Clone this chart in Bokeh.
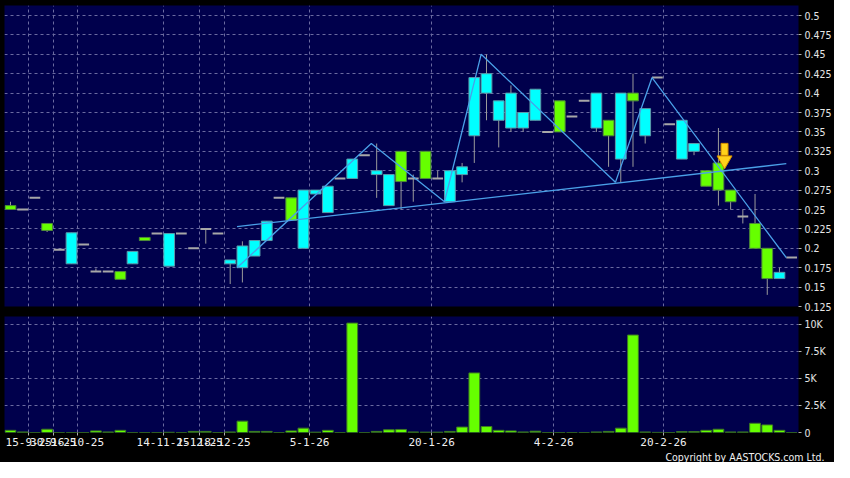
from bokeh.plotting import figure
from bokeh.models import Range1d, FixedTicker, Grid, Title, ColumnDataSource, NumeralTickFormatter
from bokeh.layouts import column
from bokeh.embed import file_html
from bokeh.resources import INLINE

# ---------------- data ----------------
opens = [0.255, 0.25, 0.265, 0.232, 0.198, 0.18, 0.205, 0.17, 0.17, 0.17,
         0.18, 0.214, 0.219, 0.177, 0.219, 0.2, 0.225, 0.219, 0.18, 0.175,
         0.19, 0.21, 0.265, 0.265, 0.2, 0.27, 0.246, 0.29, 0.29, 0.32,
         0.295, 0.255, 0.325, 0.29, 0.325, 0.29, 0.26, 0.295, 0.345, 0.4,
         0.365, 0.355, 0.355, 0.365, 0.35, 0.39, 0.37, 0.39, 0.355, 0.365,
         0.315, 0.4, 0.345, 0.42, 0.36, 0.315, 0.325, 0.3, 0.31, 0.275,
         0.241, 0.232, 0.2, 0.161, 0.188]
highs = [0.26, 0.25, 0.265, 0.232, 0.198, 0.22, 0.205, 0.174, 0.17, 0.17,
         0.196, 0.214, 0.219, 0.219, 0.219, 0.2, 0.225, 0.219, 0.185, 0.209,
         0.21, 0.235, 0.265, 0.265, 0.275, 0.275, 0.28, 0.29, 0.315, 0.32,
         0.335, 0.295, 0.325, 0.295, 0.325, 0.3, 0.3, 0.31, 0.42, 0.45,
         0.39, 0.41, 0.375, 0.405, 0.35, 0.39, 0.37, 0.39, 0.4, 0.365,
         0.4, 0.425, 0.38, 0.42, 0.36, 0.365, 0.335, 0.3, 0.355, 0.275,
         0.25, 0.27, 0.2, 0.175, 0.188]
lows = [0.25, 0.25, 0.265, 0.221, 0.198, 0.18, 0.205, 0.17, 0.17, 0.16,
        0.18, 0.21, 0.219, 0.177, 0.219, 0.2, 0.206, 0.219, 0.154, 0.156,
        0.19, 0.21, 0.265, 0.236, 0.2, 0.27, 0.246, 0.29, 0.29, 0.32,
        0.265, 0.255, 0.25, 0.26, 0.29, 0.29, 0.26, 0.285, 0.31, 0.365,
        0.33, 0.35, 0.35, 0.365, 0.35, 0.35, 0.37, 0.39, 0.35, 0.305,
        0.285, 0.305, 0.335, 0.42, 0.36, 0.315, 0.32, 0.28, 0.255, 0.25,
        0.232, 0.2, 0.14, 0.161, 0.188]
closes = [0.25, 0.25, 0.265, 0.223, 0.198, 0.22, 0.205, 0.17, 0.17, 0.16,
          0.196, 0.21, 0.219, 0.219, 0.219, 0.2, 0.225, 0.219, 0.185, 0.203,
          0.21, 0.235, 0.265, 0.236, 0.275, 0.275, 0.28, 0.29, 0.315, 0.32,
          0.3, 0.295, 0.286, 0.29, 0.29, 0.29, 0.3, 0.305, 0.42, 0.425,
          0.39, 0.4, 0.375, 0.405, 0.35, 0.35, 0.37, 0.39, 0.4, 0.345,
          0.4, 0.39, 0.38, 0.42, 0.36, 0.365, 0.335, 0.28, 0.275, 0.26,
          0.241, 0.2, 0.161, 0.169, 0.188]
volumes = [200, 50, 0, 300, 0, 0, 0, 150, 50, 200,
           0, 0, 0, 20, 0, 100, 100, 0, 50, 1050,
           100, 100, 0, 150, 400, 30, 200, 0, 10100, 0,
           100, 250, 280, 50, 30, 30, 100, 500, 5500, 550,
           200, 150, 50, 120, 0, 0, 0, 0, 50, 100,
           400, 9000, 50, 10, 0, 80, 80, 200, 300, 50,
           50, 850, 700, 200, 0]

# zigzag pattern line (candle index, price) and neckline
zigzag_idx = [19, 30, 36, 39, 50, 53, 64]
zigzag_price = [0.175, 0.335, 0.26, 0.45, 0.285, 0.42, 0.188]
neck_idx = [19, 64]
neck_price = [0.228, 0.309]
signal_idx = 58.5
signal_price = 0.309

date_tick_pos = [1.5, 3.5, 5.5, 12.5, 15.5, 17.5, 24.5, 34.5, 44.5, 53.5]
date_tick_labels = ["15-9-25", "30-9-25", "16-10-25", "14-11-25", "1-12-25",
                    "18-12-25", "5-1-26", "20-1-26", "4-2-26", "20-2-26"]
price_ticks = [0.125, 0.15, 0.175, 0.2, 0.225, 0.25, 0.275, 0.3, 0.325,
               0.35, 0.375, 0.4, 0.425, 0.45, 0.475, 0.5]
vol_ticks = [0, 2500, 5000, 7500, 10000]
vol_tick_labels = ["0", "2.5K", "5K", "7.5K", "10K"]

# ---------------- styling ----------------
NAVY = "#00004c"
GRID = "#6a6aa0"
CYAN = "#00ffff"
LIME = "#66ff00"
LINE_BLUE = "#4aa0e8"
AX_FONT = "DejaVu Sans Condensed"
W = 834
RIGHT = 32

n = len(closes)
idx = list(range(n))
half = 0.44

up = [i for i in idx if closes[i] > opens[i]]
down = [i for i in idx if closes[i] < opens[i]]
doji = [i for i in idx if closes[i] == opens[i]]

def body_src(ids):
    return ColumnDataSource(dict(
        x=ids,
        top=[max(opens[i], closes[i]) for i in ids],
        bottom=[min(opens[i], closes[i]) for i in ids]))

wick_src = ColumnDataSource(dict(x=idx, hi=highs, lo=lows))
doji_src = ColumnDataSource(dict(x0=[i - half for i in doji], x1=[i + half for i in doji],
                                 y=[closes[i] for i in doji]))

x_range = Range1d(-0.49, 64.56)

def style_yaxis(ax):
    ax.axis_line_color = None
    ax.major_tick_line_color = "#b0b0b0"
    ax.major_tick_out = 3
    ax.major_tick_in = 0
    ax.minor_tick_line_color = None
    ax.major_label_text_color = "#e6e6e6"
    ax.major_label_text_font = AX_FONT
    ax.major_label_text_font_size = "10.5px"
    ax.major_label_standoff = 3

# ---------------- price panel ----------------
p1 = figure(width=W, height=311, x_range=x_range, y_range=Range1d(0.125, 0.5129),
            output_backend="svg", toolbar_location=None, x_axis_location=None,
            y_axis_location="right", min_border_left=4, min_border_top=5,
            min_border_bottom=5, min_border_right=RIGHT)
p1.background_fill_color = NAVY
p1.border_fill_color = "black"
p1.outline_line_color = None
p1.xgrid.visible = False
p1.ygrid.ticker = FixedTicker(ticks=price_ticks)
p1.ygrid.grid_line_color = GRID
p1.ygrid.grid_line_dash = "3 3"
p1.add_layout(Grid(dimension=0, ticker=FixedTicker(ticks=date_tick_pos),
                   grid_line_color=GRID, grid_line_dash="3 3"))
ya = p1.yaxis[0]
ya.ticker = FixedTicker(ticks=price_ticks)
ya.formatter = NumeralTickFormatter(format="0.[000]")
style_yaxis(ya)

p1.segment(x0="x", y0="hi", x1="x", y1="lo", source=wick_src, line_color="#9a9a9a", line_width=1)
p1.vbar(x="x", width=2 * half, top="top", bottom="bottom", source=body_src(up),
        fill_color=CYAN, line_color="#5a9aaa", line_width=1)
p1.vbar(x="x", width=2 * half, top="top", bottom="bottom", source=body_src(down),
        fill_color=LIME, line_color="#4f8a3a", line_width=1)
p1.segment(x0="x0", y0="y", x1="x1", y1="y", source=doji_src, line_color="#a8a8a8", line_width=2)

p1.line([i - half for i in neck_idx], neck_price, line_color=LINE_BLUE, line_width=1.3)
p1.line([i - half for i in zigzag_idx], zigzag_price, line_color=LINE_BLUE, line_width=1.3)

# signal arrow
p1.rect(x=[signal_idx], y=[signal_price + 0.0185], width=7, height=12, width_units="screen",
        height_units="screen", fill_color="#ffd21a", line_color="#d08a00")
p1.scatter(x=[signal_idx], y=[signal_price + 0.0045], marker="inverted_triangle", size=15,
           fill_color="#ffd21a", line_color="#d08a00")

# ---------------- volume panel ----------------
p2 = figure(width=W, height=151, x_range=x_range, y_range=Range1d(0, 10710),
            output_backend="svg", toolbar_location=None, y_axis_location="right",
            min_border_left=4, min_border_top=5, min_border_bottom=26, min_border_right=RIGHT)
p2.background_fill_color = NAVY
p2.border_fill_color = "black"
p2.outline_line_color = None
p2.ygrid.ticker = FixedTicker(ticks=vol_ticks)
p2.ygrid.grid_line_color = GRID
p2.ygrid.grid_line_dash = "3 3"
p2.xgrid.ticker = FixedTicker(ticks=date_tick_pos)
p2.xgrid.grid_line_color = GRID
p2.xgrid.grid_line_dash = "3 3"

va = p2.yaxis[0]
va.ticker = FixedTicker(ticks=vol_ticks)
va.major_label_overrides = {t: lab for t, lab in zip(vol_ticks, vol_tick_labels)}
style_yaxis(va)

xa = p2.xaxis[0]
xa.ticker = FixedTicker(ticks=date_tick_pos)
xa.major_label_overrides = {t: lab for t, lab in zip(date_tick_pos, date_tick_labels)}
xa.axis_line_color = None
xa.major_tick_line_color = "#b0b0b0"
xa.major_tick_out = 3
xa.major_tick_in = 0
xa.minor_tick_line_color = None
xa.major_label_text_color = "#f0f0f0"
xa.major_label_text_font = "DejaVu Sans Mono"
xa.major_label_text_font_size = "11px"
xa.major_label_standoff = 2

p2.vbar(x=idx, width=2 * half, top=volumes, bottom=0, fill_color=LIME, line_color="#3d7a22")

p2.add_layout(Title(text="Copyright by AASTOCKS.com Ltd.", align="right", offset=-26,
                    standoff=0, text_color="#f0f0f0", text_font=AX_FONT,
                    text_font_size="10.5px", text_font_style="normal"), "below")

layout = column(p1, p2, spacing=0)
layout.background = "black"

open("out.html", "w").write(file_html(layout, INLINE))
